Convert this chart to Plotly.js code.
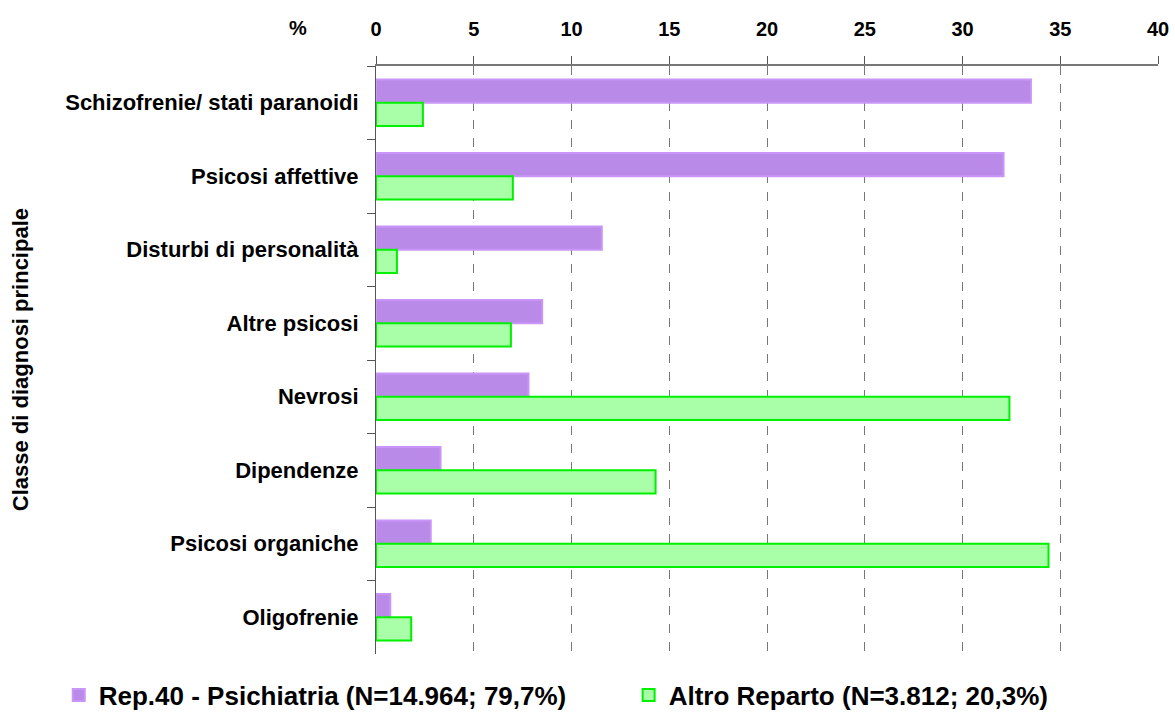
<!DOCTYPE html>
<html><head><meta charset="utf-8">
<script src="https://cdn.plot.ly/plotly-3.0.1.min.js"></script>
<style>body{margin:0;background:#fff}#c{width:1175px;height:715px}</style>
</head><body><div id="c"></div>
<script>
const categories = ["Schizofrenie/ stati paranoidi","Psicosi affettive","Disturbi di personalità","Altre psicosi","Nevrosi","Dipendenze","Psicosi organiche","Oligofrenie"];
const psichiatria = [33.5, 32.1, 11.55, 8.5, 7.8, 3.3, 2.8, 0.73];
const altroReparto = [2.4, 7.0, 1.07, 6.9, 32.4, 14.3, 34.4, 1.8];
const seriesNames = ["Rep.40 - Psichiatria (N=14.964; 79,7%)", "Altro Reparto (N=3.812; 20,3%)"];
const xTicks = [0,5,10,15,20,25,30,35,40];

const F = "'Liberation Sans',Arial,sans-serif";
const traces = [
  {type:'bar', orientation:'h', y:categories, x:psichiatria, name:seriesNames[0], legend:'legend',
   marker:{color:'#b98ae8', line:{color:'#c995f8', width:2}}},
  {type:'bar', orientation:'h', y:categories, x:altroReparto, name:seriesNames[1], legend:'legend2',
   marker:{color:'#a8ffa8', line:{color:'#00f000', width:2}}}
];
const legFont = {family:F, size:26, color:'#000', weight:'bold'};
const layout = {
  width:1175, height:715,
  margin:{l:376, r:17, t:66, b:61},
  paper_bgcolor:'#fff', plot_bgcolor:'#fff',
  barmode:'group', bargap:0.37, bargroupgap:0,
  font:{family:F, color:'#000'},
  xaxis:{side:'top', range:[0,40], tickvals:xTicks, ticktext:xTicks.map(String),
    showgrid:true, gridcolor:'#777', griddash:'dash', gridwidth:1,
    showline:true, linecolor:'#777', linewidth:2, ticks:'outside', ticklen:8, tickcolor:'#555',
    ticklabelstandoff:12, tickfont:{family:F, size:20, color:'#000', weight:'bold'}, zeroline:false, fixedrange:true},
  yaxis:{autorange:'reversed', type:'category', tickson:'boundaries', ticks:'outside', ticklen:8, tickcolor:'#555',
    showline:true, linecolor:'#555', linewidth:1, showgrid:false,
    tickfont:{family:F, size:22, color:'#000', weight:'bold'}, ticklabelstandoff:12, fixedrange:true},
  showlegend:true,
  legend:{orientation:'h', xref:'container', yref:'container', x:0.05, y:0.028, yanchor:'middle', xanchor:'left',
    itemwidth:30, font:legFont},
  legend2:{orientation:'h', xref:'container', yref:'container', x:0.535, y:0.028, yanchor:'middle', xanchor:'left',
    itemwidth:30, font:legFont},
  annotations:[
    {text:'Classe di diagnosi principale', xref:'paper', yref:'paper', x:-0.455, y:0.5, xanchor:'center', yanchor:'middle', textangle:-90,
     showarrow:false, font:{family:F, size:22, color:'#000', weight:'bold'}},
    {text:'%', xref:'paper', yref:'paper', x:-0.0997, y:1.0646, xanchor:'center', yanchor:'middle', showarrow:false,
     font:{family:F, size:20, color:'#000', weight:'bold'}}
  ]
};
Plotly.newPlot('c', traces, layout, {displayModeBar:false, staticPlot:true});
</script></body></html>
